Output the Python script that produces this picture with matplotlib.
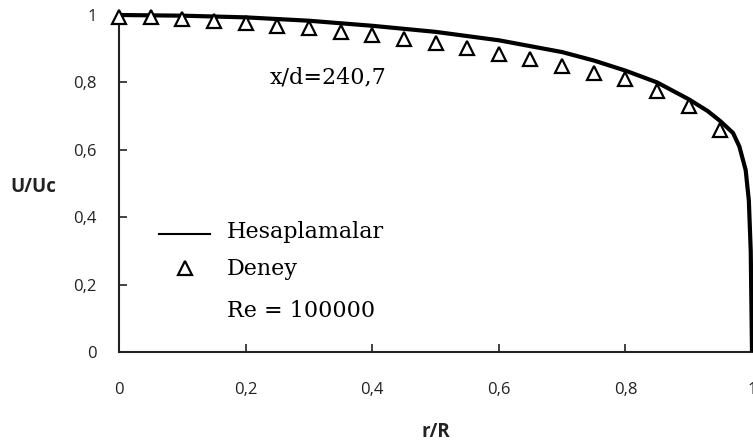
import matplotlib
matplotlib.use("Agg")
import matplotlib.pyplot as plt
from matplotlib.lines import Line2D

# Data
calc_x = [0, 0.1, 0.2, 0.3, 0.4, 0.5, 0.6, 0.7, 0.75, 0.8, 0.85, 0.9, 0.93, 0.95, 0.97, 0.98, 0.99, 0.995, 0.998, 1.0]
calc_y = [1.0, 0.998, 0.993, 0.983, 0.968, 0.950, 0.925, 0.890, 0.865, 0.835, 0.800, 0.750, 0.715, 0.685, 0.650, 0.61, 0.54, 0.45, 0.30, 0.0]

exp_x = [0, 0.05, 0.1, 0.15, 0.2, 0.25, 0.3, 0.35, 0.4, 0.45, 0.5, 0.55, 0.6, 0.65, 0.7, 0.75, 0.8, 0.85, 0.9, 0.95]
exp_y = [0.995, 0.993, 0.988, 0.983, 0.976, 0.966, 0.960, 0.950, 0.940, 0.930, 0.917, 0.902, 0.884, 0.869, 0.849, 0.828, 0.810, 0.774, 0.730, 0.658]

x_ticks = [0, 0.2, 0.4, 0.6, 0.8, 1.0]
x_tick_labels = ["0", "0,2", "0,4", "0,6", "0,8", "1"]
y_ticks = [0, 0.2, 0.4, 0.6, 0.8, 1.0]
y_tick_labels = ["0", "0,2", "0,4", "0,6", "0,8", "1"]

legend_labels = ["Hesaplamalar", "Deney", "Re = 100000"]
annotation = "x/d=240,7"

W, H = 753, 445
fig = plt.figure(figsize=(W / 100, H / 100), dpi=100)
ax = fig.add_axes([119 / W, 1 - 352 / H, 633 / W, 337 / H])

ax.plot(calc_x, calc_y, color="black", lw=3.0, solid_capstyle="butt", clip_on=False, zorder=3)
ax.plot(exp_x, exp_y, linestyle="none", marker="^", markersize=10, markerfacecolor="white",
        markeredgecolor="black", markeredgewidth=1.6, clip_on=False, zorder=4)

ax.set_xlim(0, 1)
ax.set_ylim(0, 1)
for s in ["top", "right"]:
    ax.spines[s].set_visible(False)
for s in ["left", "bottom"]:
    ax.spines[s].set_linewidth(1.5)
    ax.spines[s].set_color("#222222")

ax.set_xticks(x_ticks)
ax.set_xticklabels(x_tick_labels)
ax.set_yticks(y_ticks)
ax.set_yticklabels(y_tick_labels)
for lab in ax.get_xticklabels() + ax.get_yticklabels():
    lab.set_fontfamily("Open Sans")
    lab.set_fontsize(12)
    lab.set_color("#222222")
ax.tick_params(axis="both", direction="in", length=6, width=1.2, color="#222222")
ax.tick_params(axis="x", pad=21.5)
ax.tick_params(axis="y", pad=16)

ax.set_xlabel("r/R", fontfamily="Open Sans", fontweight="bold", fontsize=13.5, color="#222222")
ax.set_ylabel("U/Uc", fontfamily="Open Sans", fontweight="bold", fontsize=13.5, rotation=0, color="#222222")
ax.xaxis.set_label_coords(0.5, -0.237)
ax.yaxis.set_label_coords(-0.135, 0.491)
ax.xaxis.label.set_verticalalignment("center")
ax.yaxis.label.set_verticalalignment("center")
ax.yaxis.label.set_horizontalalignment("center")

serif = "DejaVu Serif"
fs = 16


def ax_x(px):
    return (px - 119) / 633


def ax_y(py):
    return (352 - py) / 337


ax.text(ax_x(270), ax_y(83), annotation, fontfamily=serif, fontsize=fs, va="baseline", ha="left",
        transform=ax.transAxes)

# manual legend
ax.add_line(Line2D([ax_x(159), ax_x(210)], [ax_y(234), ax_y(234)], color="black", lw=1.5,
                   transform=ax.transAxes))
ax.add_line(Line2D([ax_x(185)], [ax_y(268)], linestyle="none", marker="^", markersize=10,
                   markerfacecolor="white", markeredgecolor="black", markeredgewidth=1.6,
                   transform=ax.transAxes))
for lab, base in zip(legend_labels, [238, 275, 317]):
    ax.text(ax_x(227), ax_y(base), lab, fontfamily=serif, fontsize=fs, va="baseline", ha="left",
            transform=ax.transAxes)

fig.savefig("out.png", dpi=100)
